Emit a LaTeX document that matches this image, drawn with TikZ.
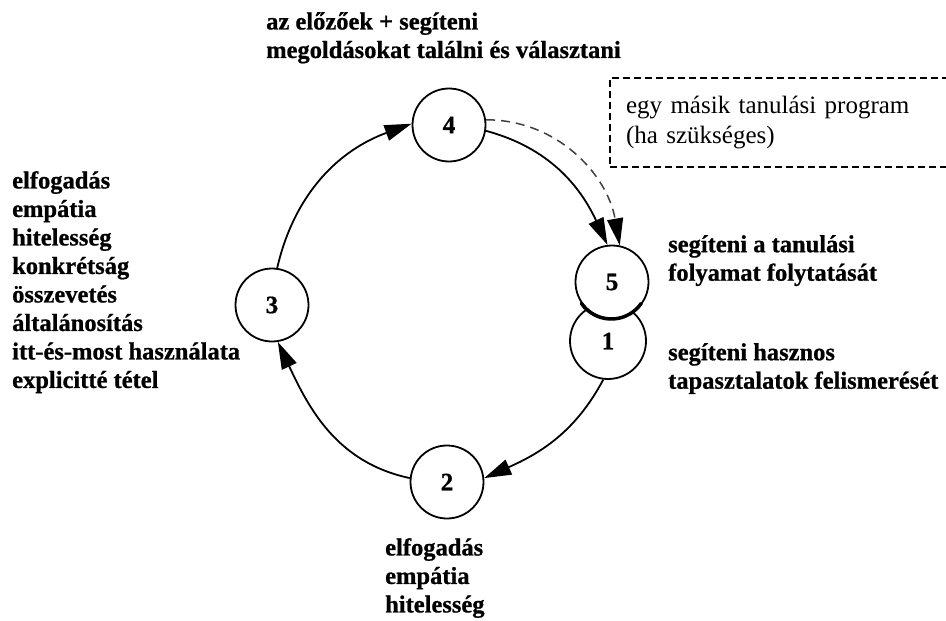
\documentclass[tikz,border=0pt]{standalone}
\usepackage{fontspec}
\setmainfont{Liberation Serif}[BoldFeatures={FakeBold=0.8}]
\usetikzlibrary{arrows.meta}

\begin{document}
\begin{tikzpicture}[x=1pt,y=-1pt,
  stage/.style={circle, draw, line width=1.8pt, fill=white, minimum size=73pt,
    inner sep=0pt, font=\fontsize{25}{29}\selectfont\bfseries},
  flow/.style={line width=1.8pt, -{Triangle[length=27pt,width=16pt]}},
  note/.style={anchor=north west, inner sep=0pt, align=left,
    font=\fontsize{24.5}{28.5}\selectfont\bfseries,
    execute at begin node={\rule{0pt}{20pt}}},
]
\useasboundingbox (0,0) rectangle (946,621);

% stages of the cycle (1 is drawn first so that 5 lies over it)
\node[stage, minimum size=76pt] (n1) at (608,341) {1};
\node[stage] (n5) at (612,282) {5};
\draw[line width=3.5pt, line cap=round] (n5.215) arc[start angle=215, end angle=325, radius=36.5pt];
\node[stage] (n4) at (449,125) {4};
\node[stage] (n3) at (272,305) {3};
\node[stage] (n2) at (447,482) {2};

% cycle connectors
\draw[flow] (n3.82) to[out=77, in=200] (n4.178);
\draw[flow] (n4.-9) to[out=-15, in=115] (n5.97);
\draw[flow] (n1.-97) to[out=-118, in=24] (n2.6);
\draw[flow] (n2.174) to[out=168, in=-65] (n3.-81);

% optional jump to another programme
\node[draw, dash pattern=on 7pt off 4pt, line width=2.2pt, anchor=north west,
  minimum width=345pt, minimum height=89pt, text width=313pt, inner xsep=16pt,
  align=left, font=\fontsize{25}{30}\selectfont] (prog) at (609,77)
  {egy másik tanulási program\\(ha szükséges)};
\draw[line width=1.5pt, draw=black!75, dash pattern=on 9pt off 6pt,
  -{Triangle[length=27pt,width=16pt,color=black]}]
  (n4.8) to[out=0, in=100] (n5.78);

% descriptions
\node[note] (t4) at (266,12) {az előzőek + segíteni\\megoldásokat találni és választani};
\node[note] (t3) at (12,171) {elfogadás\\empátia\\hitelesség\\konkrétság\\összevetés\\általánosítás\\itt-és-most használata\\explicitté tétel};
\node[note] (t5) at (668,235) {segíteni a tanulási\\folyamat folytatását};
\node[note] (t1) at (668,343) {segíteni hasznos\\tapasztalatok felismerését};
\node[note] (t2) at (385,538) {elfogadás\\empátia\\hitelesség};
\end{tikzpicture}
\end{document}
